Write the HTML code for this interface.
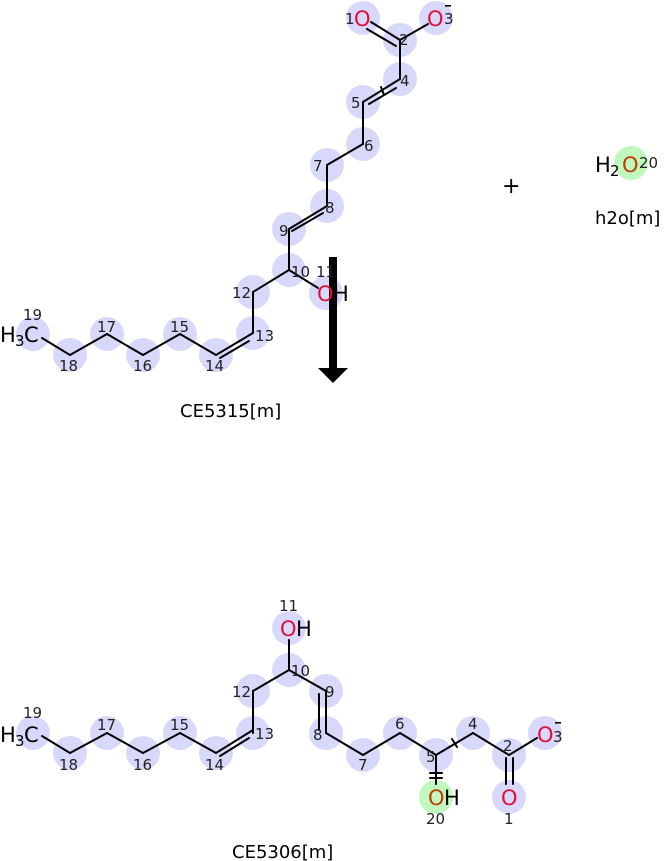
<!DOCTYPE html>
<html><head><meta charset="utf-8"><style>
html,body{margin:0;padding:0;background:#fff;}
svg{display:block;font-family:"DejaVu Sans","Liberation Sans",sans-serif;}
.n{font-size:15px;fill:#222;}
.a{font-size:21px;}
.b{stroke:#000;stroke-width:2;fill:none;stroke-linecap:round;}
</style></head><body>
<svg width="667" height="861" viewBox="0 0 667 861" xmlns="http://www.w3.org/2000/svg">
<g fill="#d8d8fb">
<circle cx="363" cy="18" r="17"/><circle cx="400" cy="40" r="17"/><circle cx="436" cy="18" r="17"/>
<circle cx="400" cy="79" r="17"/><circle cx="363" cy="102" r="17"/><circle cx="363" cy="144" r="17"/>
<circle cx="327" cy="165" r="17"/><circle cx="327" cy="206" r="17"/><circle cx="289" cy="229" r="17"/>
<circle cx="289" cy="270" r="17"/><circle cx="326" cy="293" r="17"/><circle cx="253" cy="292" r="17"/>
<circle cx="253" cy="333" r="17"/><circle cx="216" cy="355" r="17"/><circle cx="180" cy="334" r="17"/>
<circle cx="143" cy="355" r="17"/><circle cx="107" cy="334" r="17"/><circle cx="70" cy="355" r="17"/>
<circle cx="33" cy="334" r="17"/>
<circle cx="289" cy="628" r="17"/><circle cx="289" cy="670" r="17"/><circle cx="253" cy="691" r="17"/>
<circle cx="326" cy="691" r="17"/><circle cx="253" cy="733" r="17"/><circle cx="326" cy="733" r="17"/>
<circle cx="363" cy="755" r="17"/><circle cx="400" cy="733" r="17"/><circle cx="436" cy="755" r="17"/>
<circle cx="473" cy="733" r="17"/><circle cx="509" cy="755" r="17"/><circle cx="545" cy="733" r="17"/>
<circle cx="509" cy="797" r="17"/>
<circle cx="216" cy="753" r="17"/><circle cx="180" cy="733" r="17"/><circle cx="143" cy="753" r="17"/>
<circle cx="107" cy="733" r="17"/><circle cx="70" cy="753" r="17"/><circle cx="33" cy="733" r="17"/>
</g>
<g fill="#c0f8c0"><circle cx="436" cy="797" r="17"/><circle cx="631" cy="163" r="17"/></g>

<g class="b">
<line x1="371" y1="22" x2="400" y2="40"/><line x1="367" y1="29" x2="396" y2="46"/>
<line x1="400" y1="40" x2="428" y2="24"/>
<line x1="400" y1="40" x2="400" y2="79"/>
<line x1="400" y1="79" x2="363" y2="102"/><line x1="396" y1="88" x2="369" y2="104"/>
<line x1="381" y1="87" x2="384" y2="95"/>
<line x1="363" y1="102" x2="363" y2="144"/>
<line x1="363" y1="144" x2="327" y2="165"/>
<line x1="327" y1="165" x2="327" y2="206"/>
<line x1="327" y1="206" x2="289" y2="229"/><line x1="323" y1="213" x2="292" y2="231"/>
<line x1="289" y1="229" x2="289" y2="270"/>
<line x1="289" y1="270" x2="318" y2="288"/>
<line x1="289" y1="270" x2="253" y2="292"/>
<line x1="253" y1="292" x2="253" y2="333"/>
<line x1="253" y1="333" x2="216" y2="355"/><line x1="249" y1="341" x2="220" y2="358"/>
<line x1="216" y1="355" x2="180" y2="334"/><line x1="180" y1="334" x2="143" y2="355"/>
<line x1="143" y1="355" x2="107" y2="334"/><line x1="107" y1="334" x2="70" y2="355"/>
<line x1="70" y1="355" x2="42" y2="338"/>
</g>
<g class="b">
<line x1="289" y1="640" x2="289" y2="670"/>
<line x1="289" y1="670" x2="253" y2="691"/><line x1="289" y1="670" x2="326" y2="691"/>
<line x1="253" y1="691" x2="253" y2="733"/>
<line x1="326" y1="691" x2="326" y2="733"/><line x1="319" y1="694" x2="319" y2="730"/>
<line x1="253" y1="730" x2="216" y2="753"/><line x1="249" y1="738" x2="220" y2="756"/>
<line x1="216" y1="753" x2="180" y2="733"/><line x1="180" y1="733" x2="143" y2="753"/>
<line x1="143" y1="753" x2="107" y2="733"/><line x1="107" y1="733" x2="70" y2="753"/>
<line x1="70" y1="753" x2="42" y2="736"/>
<line x1="326" y1="733" x2="363" y2="755"/><line x1="363" y1="755" x2="400" y2="733"/>
<line x1="400" y1="733" x2="436" y2="755"/><line x1="436" y1="755" x2="473" y2="733"/>
<line x1="452" y1="739" x2="457" y2="747"/>
<line x1="473" y1="733" x2="509" y2="755"/><line x1="509" y1="755" x2="537" y2="738"/>
<line x1="506" y1="758" x2="506" y2="784"/><line x1="513" y1="758" x2="513" y2="784"/>
<line x1="436" y1="755" x2="436" y2="784"/>
<line x1="430" y1="773" x2="442" y2="773"/><line x1="430" y1="778" x2="442" y2="778"/>
</g>

<rect x="329" y="257" width="8" height="112" fill="#000"/>
<polygon points="318,368 348,368 333,383" fill="#000"/>

<text class="a" x="354" y="26" fill="#e0103a">O</text><text class="n" x="345" y="24">1</text>
<text class="a" x="427" y="26" fill="#e0103a">O</text><text class="n" x="444" y="24">3</text>
<rect x="445" y="5" width="6" height="1.6" fill="#000"/>
<text class="n" x="399" y="45">2</text>
<text class="n" x="400" y="86">4</text>
<text class="n" x="351" y="108">5</text>
<text class="n" x="364" y="151">6</text>
<text class="n" x="313" y="171">7</text>
<text class="n" x="325" y="213">8</text>
<text class="n" x="279" y="236">9</text>
<text class="n" x="291" y="277">10</text>
<text class="n" x="316" y="277">11</text>
<text class="a" x="317" y="301" fill="#e0103a">O</text><text class="a" x="333" y="301" fill="#000">H</text>
<text class="n" x="232" y="298">12</text>
<text class="n" x="255" y="341">13</text>
<text class="n" x="205" y="371">14</text>
<text class="n" x="170" y="332">15</text>
<text class="n" x="133" y="371">16</text>
<text class="n" x="97" y="332">17</text>
<text class="n" x="59" y="371">18</text>
<text class="n" x="23" y="320">19</text>
<text class="a" x="0" y="342">H</text><text x="15" y="346" font-size="15">3</text><text class="a" x="24" y="342">C</text>
<text x="180" y="417" font-size="18">CE5315[m]</text>

<text x="502" y="193" font-size="22">+</text>
<text class="a" x="595" y="172">H</text><text x="610" y="176" font-size="15">2</text>
<text class="a" x="622" y="172" fill="#c04000">O</text><text class="n" x="639" y="168" fill="#222">20</text>
<text x="595" y="224" font-size="18">h2o[m]</text>

<text class="n" x="279" y="611">11</text>
<text class="a" x="280" y="636" fill="#e0103a">O</text><text class="a" x="296" y="636">H</text>
<text class="n" x="291" y="676">10</text>
<text class="n" x="232" y="697">12</text>
<text class="n" x="325" y="697">9</text>
<text class="n" x="255" y="739">13</text>
<text class="n" x="313" y="740">8</text>
<text class="n" x="358" y="770">7</text>
<text class="n" x="395" y="729">6</text>
<text class="n" x="426" y="762">5</text>
<text class="n" x="468" y="729">4</text>
<text class="n" x="503" y="751">2</text>
<text class="a" x="537" y="742" fill="#e0103a">O</text><text class="n" x="553" y="742">3</text>
<rect x="555" y="722" width="6" height="1.6" fill="#000"/>
<text class="a" x="501" y="805" fill="#e0103a">O</text><text class="n" x="504" y="824">1</text>
<text class="a" x="428" y="805" fill="#c04000">O</text><text class="a" x="444" y="805">H</text>
<text class="n" x="426" y="824">20</text>
<text class="n" x="205" y="770">14</text>
<text class="n" x="170" y="730">15</text>
<text class="n" x="133" y="770">16</text>
<text class="n" x="97" y="730">17</text>
<text class="n" x="59" y="770">18</text>
<text class="n" x="23" y="718">19</text>
<text class="a" x="0" y="742">H</text><text x="15" y="746" font-size="15">3</text><text class="a" x="24" y="742">C</text>
<text x="232" y="858" font-size="18">CE5306[m]</text>
</svg>
</body></html>
